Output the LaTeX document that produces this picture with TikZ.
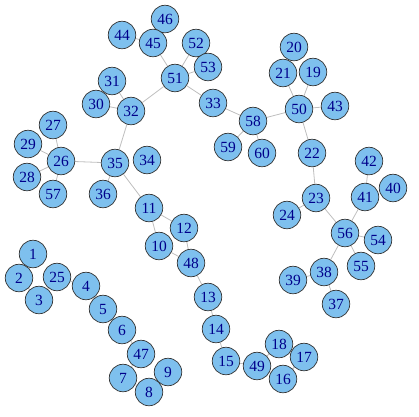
\documentclass[tikz,border=0pt]{standalone}
\usepackage{fontspec}
\setmainfont{Liberation Serif}
\usetikzlibrary{positioning,backgrounds}
\definecolor{skyblue}{HTML}{7EC0EE}
\definecolor{vlabel}{HTML}{00008B}
\definecolor{elink}{HTML}{BEBEBE}
\tikzset{x=1pt, y=-1pt}
\tikzstyle{v}=[circle, draw=black!80, line width=0.7pt, fill=skyblue, inner sep=0pt, minimum size=27.5pt, text=vlabel, node font={\fontsize{15.5}{15.5}\selectfont}]
\tikzstyle{e}=[draw=elink, line width=0.8pt]
\begin{document}
\begin{tikzpicture}
        \useasboundingbox (0,0) rectangle (419,416);
        % upper left tree
        \node[v] (46) at (165,19) {46};
        \node[v] (44) at (122,35) {44};
        \node[v] (45) at (153,43) {45};
        \node[v] (52) at (196,43) {52};
        \node[v] (53) at (208,67) {53};
        \node[v] (51) at (175,78) {51};
        \node[v] (33) at (213,103) {33};
        \node[v] (31) at (112,81) {31};
        \node[v] (30) at (96,104) {30};
        \node[v] (32) at (131,111) {32};
        \node[v] (27) at (53,125) {27};
        \node[v] (29) at (28,144) {29};
        \node[v] (26) at (61,161) {26};
        \node[v] (28) at (27,177) {28};
        \node[v] (57) at (53,194) {57};
        \node[v] (35) at (115,163) {35};
        \node[v] (34) at (147,160) {34};
        \node[v] (36) at (103,194) {36};
        \node[v] (11) at (149,208) {11};
        \node[v] (12) at (184,228) {12};
        \node[v] (10) at (159,246) {10};
        \node[v] (48) at (191,263) {48};
        \node[v] (13) at (208,297) {13};
        \node[v] (14) at (216,329) {14};
        \node[v] (15) at (226,361) {15};
        \node[v] (49) at (257,366) {49};
        \node[v] (16) at (283,379) {16};
        \node[v] (18) at (279,344) {18};
        \node[v] (17) at (304,357) {17};
        % upper right tree
        \node[v] (20) at (294,47) {20};
        \node[v] (21) at (283,73) {21};
        \node[v] (19) at (313,72) {19};
        \node[v] (50) at (299,109) {50};
        \node[v] (43) at (335,106) {43};
        \node[v] (58) at (253,121) {58};
        \node[v] (59) at (228,147) {59};
        \node[v] (60) at (262,153) {60};
        \node[v] (22) at (312,153) {22};
        \node[v] (23) at (316,198) {23};
        \node[v] (24) at (287,215) {24};
        \node[v] (42) at (369,161) {42};
        \node[v] (41) at (365,197) {41};
        \node[v] (40) at (393,188) {40};
        \node[v] (56) at (345,233) {56};
        \node[v] (54) at (378,240) {54};
        \node[v] (55) at (361,266) {55};
        \node[v] (38) at (324,272) {38};
        \node[v] (39) at (293,280) {39};
        \node[v] (37) at (336,304) {37};
        % lower left chain
        \node[v] (1) at (33,254) {1};
        \node[v] (2) at (19,278) {2};
        \node[v] (3) at (39,300) {3};
        \node[v] (25) at (57,277) {25};
        \node[v] (4) at (86,286) {4};
        \node[v] (5) at (103,309) {5};
        \node[v] (6) at (122,330) {6};
        \node[v] (47) at (141,354) {47};
        \node[v] (9) at (168,372) {9};
        \node[v] (7) at (123,378) {7};
        \node[v] (8) at (149,392) {8};
        \begin{scope}[on background layer]
        \draw[e] (44) -- (45);  \draw[e] (46) -- (45);  \draw[e] (45) -- (51);
        \draw[e] (52) -- (51);  \draw[e] (53) -- (51);  \draw[e] (51) -- (33);
        \draw[e] (51) -- (32);  \draw[e] (31) -- (32);  \draw[e] (30) -- (32);
        \draw[e] (32) -- (35);  \draw[e] (35) -- (26);  \draw[e] (27) -- (26);
        \draw[e] (29) -- (26);  \draw[e] (28) -- (26);  \draw[e] (57) -- (26);
        \draw[e] (35) -- (36);  \draw[e] (35) -- (11);
        \draw[e] (11) -- (12);  \draw[e] (11) -- (10);  \draw[e] (12) -- (48);
        \draw[e] (10) -- (48);  \draw[e] (48) -- (13);  \draw[e] (13) -- (14);
        \draw[e] (14) -- (15);  \draw[e] (15) -- (49);  \draw[e] (49) -- (18);
        \draw[e] (49) -- (16);  \draw[e] (16) -- (17);
        \draw[e] (33) -- (58);  \draw[e] (58) -- (59);  \draw[e] (58) -- (60);
        \draw[e] (58) -- (50);  \draw[e] (50) -- (21);  \draw[e] (50) -- (19);
        \draw[e] (21) -- (20);  \draw[e] (50) -- (43);  \draw[e] (50) -- (22);
        \draw[e] (22) -- (23);  \draw[e] (23) -- (24);  \draw[e] (23) -- (56);
        \draw[e] (56) -- (41);  \draw[e] (41) -- (42);
        \draw[e] (56) -- (54);  \draw[e] (56) -- (55);  \draw[e] (56) -- (38);
        \draw[e] (38) -- (39);  \draw[e] (38) -- (37);
        \draw[e] (1) -- (2);    \draw[e] (2) -- (3);    \draw[e] (3) -- (25);
        \draw[e] (25) -- (4);   \draw[e] (4) -- (5);    \draw[e] (5) -- (6);
        \draw[e] (6) -- (47);   \draw[e] (47) -- (7);   \draw[e] (7) -- (8);
        \draw[e] (8) -- (9);
        \end{scope}
\end{tikzpicture}
\end{document}
